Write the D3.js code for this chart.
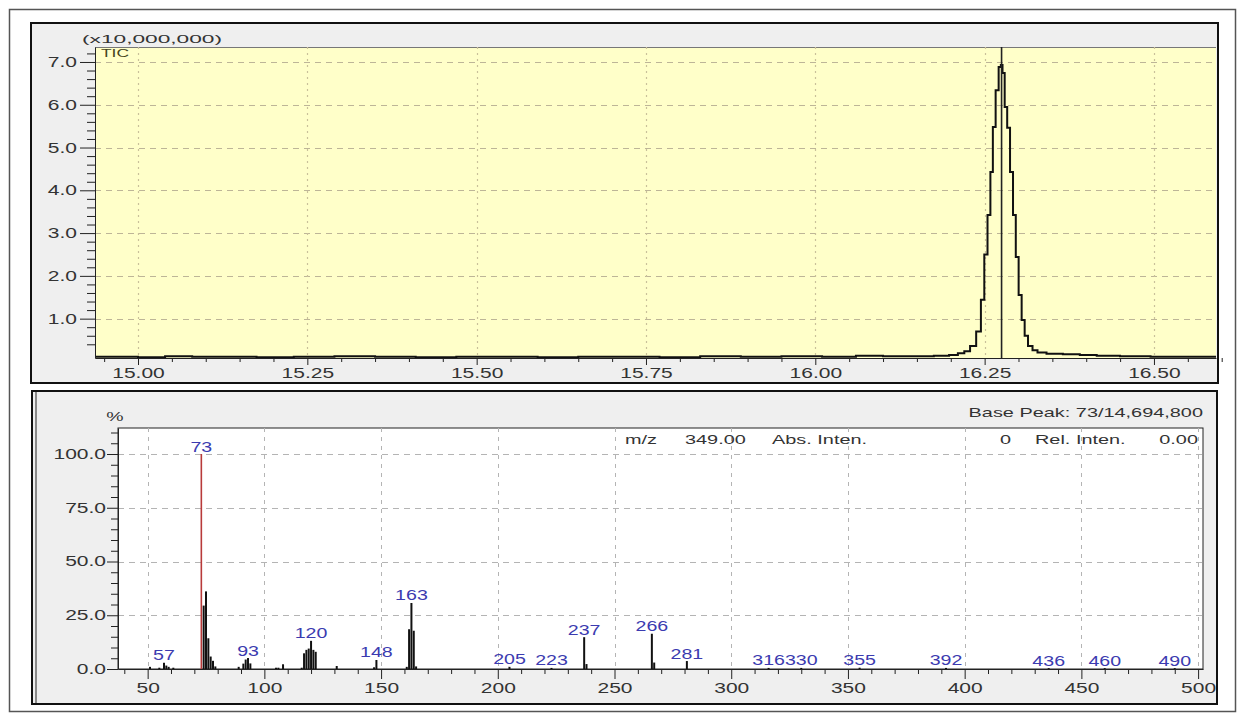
<!DOCTYPE html>
<html>
<head>
<meta charset="utf-8">
<script src="https://cdn.jsdelivr.net/npm/d3@7"></script>
<style>
  html, body { margin: 0; padding: 0; background: #fff; }
  svg { display: block; font-family: "Liberation Sans", Arial, sans-serif; }
</style>
</head>
<body>
<svg id="chart" width="1246" height="722"></svg>
<script>
// ---- Total ion chromatogram (intensity in units of 10,000,000) ----
const ticTimes = [14.937, 14.98, 15.02, 15.06, 15.10, 15.15, 15.20, 15.26, 15.32, 15.38,
  15.44, 15.50, 15.56, 15.62, 15.68, 15.74, 15.80, 15.86, 15.92, 15.98,
  16.04, 16.08, 16.12, 16.16, 16.19, 16.205, 16.216, 16.224, 16.233, 16.242,
  16.247, 16.252, 16.2565, 16.2605, 16.2638, 16.2687, 16.2727, 16.2752, 16.2776, 16.2816,
  16.285, 16.29, 16.2938, 16.2982, 16.3022, 16.3071, 16.3111, 16.317, 16.3244, 16.3317,
  16.351, 16.38, 16.401, 16.43, 16.47, 16.52, 16.56, 16.592];
const ticValues = [0.11, 0.11, 0.10, 0.12, 0.11, 0.11, 0.10, 0.11, 0.12, 0.11,
  0.10, 0.11, 0.11, 0.10, 0.11, 0.11, 0.10, 0.12, 0.11, 0.12,
  0.11, 0.13, 0.12, 0.12, 0.13, 0.15, 0.19, 0.24, 0.36, 0.70,
  1.44, 2.50, 3.42, 4.43, 5.48, 6.34, 6.88, 6.93, 6.74, 5.95,
  5.46, 4.43, 3.42, 2.44, 1.55, 0.97, 0.60, 0.36, 0.26, 0.21,
  0.18, 0.17, 0.15, 0.13, 0.12, 0.11, 0.11, 0.11];
const cursorTime = 16.275;
const ticXTicks = [15.00, 15.25, 15.50, 15.75, 16.00, 16.25, 16.50];
const ticYTicks = [1, 2, 3, 4, 5, 6, 7];

// ---- Mass spectrum at the cursor scan (relative intensity, %) ----
const mzValues = [51, 55, 57, 58, 59, 61, 73, 74, 75, 76,
  77, 78, 79, 89, 91, 92, 93, 94, 105, 106,
  108, 116, 117, 118, 119, 120, 121, 122, 131, 147,
  148, 161, 162, 163, 164, 165, 205, 223, 237, 238,
  266, 267, 281, 316, 330, 355, 392, 436, 460, 490];
const relIntensity = [1.0, 0.6, 2.9, 1.6, 1.0, 0.6, 100, 29.5, 36.1, 14.3,
  5.8, 3.8, 1.2, 1.0, 2.5, 4.4, 5.1, 2.6, 0.6, 0.6,
  2.2, 0.6, 7.3, 8.9, 9.5, 13.1, 8.9, 8.0, 1.4, 0.8,
  4.2, 1.0, 18.5, 30.7, 17.8, 1.2, 1.0, 0.5, 14.8, 2.3,
  16.4, 3.0, 3.7, 0.5, 0.5, 0.6, 0.5, 0.4, 0.4, 0.4];
const labelledPeaks = [57, 73, 93, 120, 148, 163, 205, 223, 237, 266, 281, 316, 330, 355, 392, 436, 460, 490];
const basePeakMz = 73;
const specXTicks = [50, 100, 150, 200, 250, 300, 350, 400, 450, 500];
const specYTicks = [0, 25, 50, 75, 100];

const SX = 1.5; // horizontal stretch of all lettering

const svg = d3.select('#chart');

function label(g, x, y, str, size, anchor, fill, sx) {
  return g.append('text')
    .attr('transform', `translate(${x},${y}) scale(${sx || SX},1)`)
    .attr('text-anchor', anchor || 'start')
    .attr('font-size', size)
    .attr('fill', fill || '#333')
    .text(str);
}

function styleAxis(g, size, leftOffset) {
  g.attr('font-family', null).attr('font-size', size).attr('color', '#222');
  g.selectAll('.tick text').attr('transform', `scale(${SX},1)`).attr('fill', '#333');
  if (leftOffset != null) g.selectAll('.tick text').attr('x', -leftOffset / SX);
}

// outer frame
svg.append('rect').attr('x', 9.5).attr('y', 9.5).attr('width', 1226).attr('height', 702)
  .attr('fill', '#fff').attr('stroke', '#555').attr('stroke-width', 1.5);

// ================= chromatogram panel =================
const tp = { l: 95, t: 47, r: 1216, b: 358 };
const gTop = svg.append('g');
gTop.append('rect').attr('x', 31).attr('y', 23).attr('width', 1187).attr('height', 360)
  .attr('fill', '#efefef').attr('stroke', '#111').attr('stroke-width', 2);
gTop.append('rect').attr('x', tp.l).attr('y', tp.t).attr('width', tp.r - tp.l).attr('height', tp.b - tp.t)
  .attr('fill', '#ffffc9');
gTop.append('line').attr('x1', tp.l).attr('x2', tp.r).attr('y1', tp.t + 0.5).attr('y2', tp.t + 0.5)
  .attr('stroke', '#777').attr('stroke-width', 1);

const xTic = d3.scaleLinear().domain([14.9365, 16.5916]).range([tp.l, tp.r]);
const yTic = d3.scaleLinear().domain([0.08, 7.35]).range([tp.b, tp.t]);

// grid
gTop.append('g').selectAll('line').data(ticYTicks).join('line')
  .attr('x1', tp.l).attr('x2', tp.r)
  .attr('y1', d => Math.round(yTic(d)) + 0.5).attr('y2', d => Math.round(yTic(d)) + 0.5)
  .attr('stroke', '#bdb597').attr('stroke-width', 1).attr('stroke-dasharray', '6,5');
gTop.append('g').selectAll('line').data(ticXTicks).join('line')
  .attr('x1', d => Math.round(xTic(d)) + 0.5).attr('x2', d => Math.round(xTic(d)) + 0.5)
  .attr('y1', tp.t).attr('y2', tp.b)
  .attr('stroke', '#c9c09a').attr('stroke-width', 1.2).attr('stroke-dasharray', '2,4');

// trace
svg.append('clipPath').attr('id', 'ticClip').append('rect')
  .attr('x', tp.l).attr('y', tp.t).attr('width', tp.r - tp.l).attr('height', tp.b - tp.t);
const ticPts = ticTimes.map((t, i) => [t, ticValues[i]]);
gTop.append('path').datum(ticPts)
  .attr('clip-path', 'url(#ticClip)')
  .attr('fill', 'none').attr('stroke', '#111').attr('stroke-width', 2)
  .attr('d', d3.line().x(d => xTic(d[0])).y(d => yTic(d[1])).curve(d3.curveStep));

// cursor
gTop.append('line')
  .attr('x1', xTic(cursorTime)).attr('x2', xTic(cursorTime))
  .attr('y1', tp.t).attr('y2', tp.b)
  .attr('stroke', '#222').attr('stroke-width', 1.6);

// axes
const ticYMinor = d3.range(2, 37).map(i => i * 0.2).filter(v => Math.abs(v - Math.round(v)) > 1e-6);
gTop.append('g').attr('transform', `translate(${tp.l},0)`)
  .call(d3.axisLeft(yTic).tickValues(ticYMinor).tickFormat('').tickSize(8).tickSizeOuter(0))
  .call(g => g.select('.domain').remove())
  .attr('color', '#222');
gTop.append('g').attr('transform', `translate(${tp.l},0)`)
  .call(d3.axisLeft(yTic).tickValues(ticYTicks).tickFormat(d3.format('.1f')).tickSize(15).tickPadding(3).tickSizeOuter(0))
  .call(g => styleAxis(g, 14, 18));

const ticXMinor = d3.range(0, 34).map(i => 14.95 + i * 0.05).filter(v => Math.abs(v * 4 - Math.round(v * 4)) > 1e-6);
gTop.append('g').attr('transform', `translate(0,${tp.b})`)
  .call(d3.axisBottom(xTic).tickValues(ticXMinor).tickFormat('').tickSize(4).tickSizeOuter(0))
  .call(g => g.select('.domain').remove())
  .attr('color', '#222');
gTop.append('g').attr('transform', `translate(0,${tp.b})`)
  .call(d3.axisBottom(xTic).tickValues(ticXTicks).tickFormat(d3.format('.2f')).tickSize(7).tickPadding(3).tickSizeOuter(0))
  .call(g => styleAxis(g, 14));

gTop.append('text').attr('x', 82).attr('y', 43).attr('font-size', 11.5)
  .attr('textLength', 140).attr('lengthAdjust', 'spacingAndGlyphs').attr('fill', '#333')
  .text('(x10,000,000)');
gTop.append('text').attr('x', 101).attr('y', 57).attr('font-size', 10)
  .attr('textLength', 28).attr('lengthAdjust', 'spacingAndGlyphs').attr('fill', '#444420')
  .text('TIC');

// ================= spectrum panel =================
const sp = { l: 118, t: 428, r: 1203, b: 669 };
const gBot = svg.append('g');
gBot.append('rect').attr('x', 32).attr('y', 391).attr('width', 1185).attr('height', 313)
  .attr('fill', '#efefef').attr('stroke', '#111').attr('stroke-width', 2);
gBot.append('line').attr('x1', 36).attr('x2', 36).attr('y1', 392).attr('y2', 703)
  .attr('stroke', '#8a8a8a').attr('stroke-width', 2);
gBot.append('rect').attr('x', sp.l).attr('y', sp.t).attr('width', sp.r - sp.l).attr('height', sp.b - sp.t)
  .attr('fill', '#fff').attr('stroke', '#222').attr('stroke-width', 1);

const xSpec = d3.scaleLinear().domain([37.3, 502.1]).range([sp.l, sp.r]);
const ySpec = d3.scaleLinear().domain([0, 112.1]).range([sp.b, sp.t]);

// grid
gBot.append('g').selectAll('line').data(specYTicks.filter(v => v > 0)).join('line')
  .attr('x1', sp.l).attr('x2', sp.r)
  .attr('y1', d => Math.round(ySpec(d)) + 0.5).attr('y2', d => Math.round(ySpec(d)) + 0.5)
  .attr('stroke', '#b4b4b4').attr('stroke-width', 1).attr('stroke-dasharray', '6,5');
gBot.append('g').selectAll('line').data(specXTicks).join('line')
  .attr('x1', d => Math.round(xSpec(d)) + 0.5).attr('x2', d => Math.round(xSpec(d)) + 0.5)
  .attr('y1', sp.t).attr('y2', sp.b)
  .attr('stroke', '#b4b4b4').attr('stroke-width', 1).attr('stroke-dasharray', '4,5');

// peaks
const peaks = mzValues.map((m, i) => ({ mz: m, v: relIntensity[i] }));
gBot.append('g').selectAll('line').data(peaks).join('line')
  .attr('x1', d => xSpec(d.mz)).attr('x2', d => xSpec(d.mz))
  .attr('y1', ySpec(0)).attr('y2', d => ySpec(d.v))
  .attr('stroke', d => d.mz === basePeakMz ? '#b83a3a' : '#111')
  .attr('stroke-width', d => d.mz === basePeakMz ? 1.6 : 2);

// peak labels
const gLab = gBot.append('g');
peaks.filter(d => labelledPeaks.includes(d.mz)).forEach(d => {
  label(gLab, xSpec(d.mz), ySpec(d.v) - 2.5, String(d.mz), 14, 'middle', '#3b3bb0', 1.4);
});

// axes
gBot.append('g').attr('transform', `translate(${sp.l},0)`)
  .call(d3.axisLeft(ySpec).tickValues(d3.range(5, 111, 5).filter(v => v % 25 !== 0)).tickFormat('').tickSize(7).tickSizeOuter(0))
  .call(g => g.select('.domain').remove())
  .attr('color', '#222');
gBot.append('g').attr('transform', `translate(${sp.l},0)`)
  .call(d3.axisLeft(ySpec).tickValues(specYTicks).tickFormat(d3.format('.1f')).tickSize(11).tickPadding(1).tickSizeOuter(0))
  .call(g => styleAxis(g, 14, 12));

gBot.append('g').attr('transform', `translate(0,${sp.b})`)
  .call(d3.axisBottom(xSpec).tickValues(d3.range(40, 501, 10).filter(v => v % 50 !== 0)).tickFormat('').tickSize(5).tickSizeOuter(0))
  .call(g => g.select('.domain').remove())
  .attr('color', '#222');
gBot.append('g').attr('transform', `translate(0,${sp.b})`)
  .call(d3.axisBottom(xSpec).tickValues(specXTicks).tickFormat(d3.format('d')).tickSize(10).tickPadding(4).tickSizeOuter(0))
  .call(g => styleAxis(g, 14));

// captions
label(gBot, 115, 421, '%', 13, 'middle', '#333', 1.5);
label(gBot, 1203, 417, 'Base Peak: 73/14,694,800', 13, 'end', '#333', 1.53);
label(gBot, 625, 444, 'm/z', 13, 'start', '#333', 1.53);
label(gBot, 685, 444, '349.00', 13, 'start', '#333', 1.53);
label(gBot, 772, 444, 'Abs. Inten.', 13, 'start', '#333', 1.53);
label(gBot, 1011, 444, '0', 13, 'end', '#333', 1.53);
label(gBot, 1035, 444, 'Rel. Inten.', 13, 'start', '#333', 1.53);
label(gBot, 1198, 444, '0.00', 13, 'end', '#333', 1.53);
</script>
</body>
</html>
